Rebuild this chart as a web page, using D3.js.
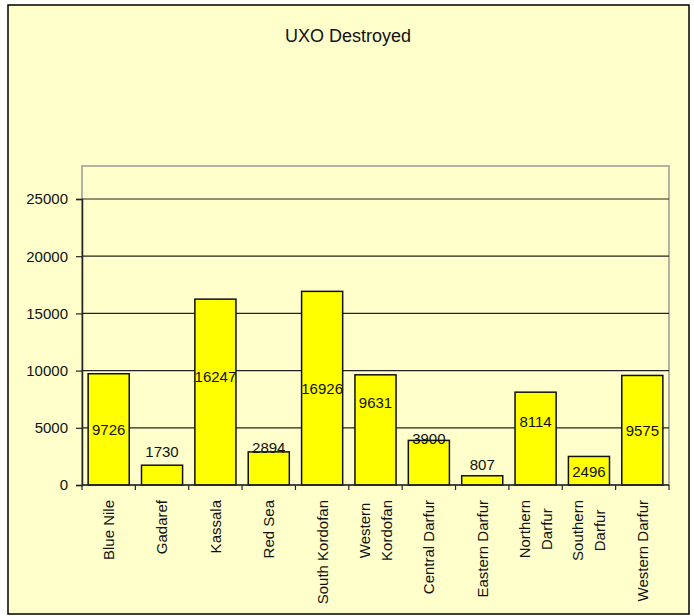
<!DOCTYPE html>
<html>
<head>
<meta charset="utf-8">
<script src="https://cdn.jsdelivr.net/npm/d3@7"></script>
<style>
    body { margin: 0; background: #fff; }
    text { font-family: "Liberation Sans", Arial, sans-serif; fill: #111; }
</style>
</head>
<body>
<script>
// chart data
const regions = ["Blue Nile", "Gadaref", "Kassala", "Red Sea", "South Kordofan", "Western\nKordofan",
    "Central Darfur", "Eastern Darfur", "Northern\nDarfur", "Southern\nDarfur", "Western Darfur"];
const destroyed = [9726, 1730, 16247, 2894, 16926, 9631, 3900, 807, 8114, 2496, 9575];
// where Excel left each data label, in value units
const labelAt = [4800, 2890, 9440, 3230, 8390, 7170, 4020, 1750, 5510, 1140, 4720];
const yTicks = [0, 5000, 10000, 15000, 20000, 25000];

const width = 694, height = 616;
const plotLeft = 82, plotRight = 669, plotTop = 166, plotBottom = 485;

let svg = d3.select("body").append("svg")
    .attr("width", width)
    .attr("height", height);

// chart area frame
svg.append("rect")
    .attr("x", 8).attr("y", 5)
    .attr("width", 681).attr("height", 609)
    .attr("fill", "#ffffcc")
    .attr("stroke", "#000")
    .attr("stroke-width", 1.5);

svg.append("text")
    .attr("x", 348).attr("y", 42)
    .attr("text-anchor", "middle")
    .style("font-size", "18px")
    .text("UXO Destroyed");

// plot area
svg.append("rect")
    .attr("x", plotLeft).attr("y", plotTop)
    .attr("width", plotRight - plotLeft).attr("height", plotBottom - plotTop)
    .attr("fill", "none")
    .attr("stroke", "#999")
    .attr("stroke-width", 1.5);

let x = d3.scaleBand()
    .domain(regions)
    .range([plotLeft, plotRight])
    .paddingInner(0.23)
    .paddingOuter(0.115);

let y = d3.scaleLinear()
    .domain([0, 25000])
    .range([plotBottom, 199]);

// gridlines
svg.append("g")
    .selectAll("line")
    .data(yTicks.filter(d => d > 0))
    .join("line")
    .attr("x1", plotLeft).attr("x2", plotRight)
    .attr("y1", d => y(d)).attr("y2", d => y(d))
    .attr("stroke", "#222")
    .attr("stroke-width", 1.2);

// y axis
let yAxis = svg.append("g")
    .attr("transform", `translate(${plotLeft},0)`)
    .call(d3.axisLeft(y).tickValues(yTicks).tickSize(6).tickPadding(8).tickFormat(d3.format("d")));
yAxis.select(".domain").attr("stroke", "#222").attr("stroke-width", 1.5);
yAxis.selectAll(".tick line").attr("stroke", "#222").attr("stroke-width", 1.2);
yAxis.selectAll("text")
    .style("font-size", "15px")
    .style("font-family", "Liberation Sans, Arial, sans-serif")
    .attr("fill", "#111");

// bars
svg.append("g")
    .selectAll("rect")
    .data(regions)
    .join("rect")
    .attr("x", d => x(d))
    .attr("width", x.bandwidth())
    .attr("y", (d, i) => y(destroyed[i]))
    .attr("height", (d, i) => y(0) - y(destroyed[i]))
    .attr("fill", "#ffff00")
    .attr("stroke", "#111")
    .attr("stroke-width", 1.5);

// value labels
svg.append("g")
    .selectAll("text")
    .data(regions)
    .join("text")
    .attr("x", d => x(d) + x.bandwidth() / 2)
    .attr("y", (d, i) => y(labelAt[i]))
    .attr("dy", "0.36em")
    .attr("text-anchor", "middle")
    .style("font-size", "15px")
    .text((d, i) => destroyed[i]);

// x axis: ticks on category boundaries
let step = x.step();
svg.append("line")
    .attr("x1", plotLeft).attr("x2", plotRight)
    .attr("y1", plotBottom).attr("y2", plotBottom)
    .attr("stroke", "#222")
    .attr("stroke-width", 1.5);
svg.append("g")
    .selectAll("line")
    .data(d3.range(regions.length + 1))
    .join("line")
    .attr("x1", i => plotLeft + i * step).attr("x2", i => plotLeft + i * step)
    .attr("y1", plotBottom).attr("y2", plotBottom + 5)
    .attr("stroke", "#222")
    .attr("stroke-width", 1.2);

// rotated category labels, lines centred within the block
let labels = svg.append("g")
    .selectAll("g")
    .data(regions)
    .join("g")
    .attr("transform", d => `translate(${x(d) + x.bandwidth() / 2},500) rotate(-90)`);

labels.each(function (d) {
    let g = d3.select(this);
    let lines = d.split("\n");
    let texts = lines.map((line, k) => g.append("text")
        .attr("text-anchor", "middle")
        .attr("y", (k - (lines.length - 1) / 2) * 22)
        .attr("dy", "0.36em")
        .style("font-size", "15px")
        .text(line));
    let longest = d3.max(texts, t => t.node().getComputedTextLength());
    texts.forEach(t => t.attr("x", -longest / 2));
});
</script>
</body>
</html>
